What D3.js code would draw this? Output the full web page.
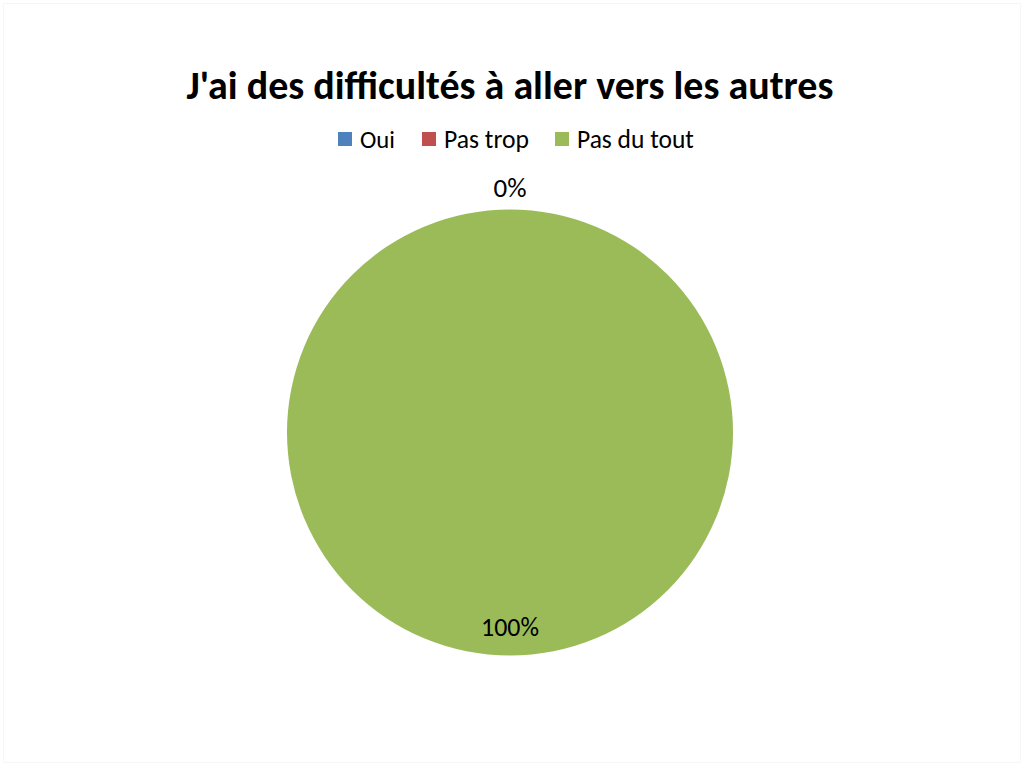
<!DOCTYPE html>
<html><head><meta charset="utf-8">
<script src="https://cdn.jsdelivr.net/npm/d3@7"></script>
<style>html,body{margin:0;padding:0;background:#fff;}svg{display:block;}</style>
</head><body>
<svg id="c" width="1024" height="767"></svg>
<script>
const title = "J'ai des difficultés à aller vers les autres";
const categories = ["Oui", "Pas trop", "Pas du tout"];
const values = [0, 0, 100];
const colors = ["#4F81BD", "#C0504D", "#9BBB59"];

const svg = d3.select("#c");
const font = "Carlito, Lato, 'Open Sans', sans-serif";

svg.append("rect").attr("x", 3.5).attr("y", 3.5).attr("width", 1017).attr("height", 759)
  .attr("fill", "none").attr("stroke", "#f6f6f6");

function fit(sel, base, targetW) {
  const w = sel.node().getComputedTextLength();
  sel.attr("font-size", base * targetW / w);
}

// Title
const t = svg.append("text").attr("x", 510).attr("y", 99).attr("text-anchor", "middle")
  .attr("font-family", font).attr("font-weight", "bold").attr("font-size", 32)
  .attr("fill", "#000").text(title);
fit(t, 32, 647);

// Legend
const legendX = [338, 422, 555];
const legendTW = [35, 85, 117];
const lg = svg.append("g");
categories.forEach((c, i) => {
  lg.append("rect").attr("x", legendX[i]).attr("y", 132).attr("width", 14).attr("height", 14).attr("fill", colors[i]);
  const tx = lg.append("text").attr("x", legendX[i] + 22).attr("y", 147.5).attr("font-family", font)
    .attr("font-size", 22).attr("fill", "#000").text(c);
  fit(tx, 22, legendTW[i]);
});

// Pie
const cx = 510, cy = 432.5, r = 223;
const total = d3.sum(values);
const pie = d3.pie().sort(null).value(d => d)(values);
const arc = d3.arc().innerRadius(0).outerRadius(r);
const g = svg.append("g").attr("transform", `translate(${cx},${cy})`);
g.selectAll("path").data(pie).enter().append("path")
  .attr("d", arc).attr("fill", (d, i) => colors[i]);

// Labels
const inArc = d3.arc().innerRadius(r * 0.87).outerRadius(r * 0.87);
const outArc = d3.arc().innerRadius(r + 22).outerRadius(r + 22);
const shown = new Set();
pie.forEach((d, i) => {
  const pct = Math.round(d.value / total * 100) + "%";
  const p = d.value > 0 ? inArc.centroid(d) : outArc.centroid(d);
  const key = pct + Math.round(p[0]) + "," + Math.round(p[1]);
  if (shown.has(key)) return;
  shown.add(key);
  const tx = g.append("text").attr("x", p[0]).attr("y", p[1]).attr("dy", "0.35em")
    .attr("text-anchor", "middle").attr("font-family", font).attr("font-size", 22)
    .attr("fill", "#000").text(pct);
  fit(tx, 22, d.value > 0 ? 58 : 33);
});
</script>
</body></html>
